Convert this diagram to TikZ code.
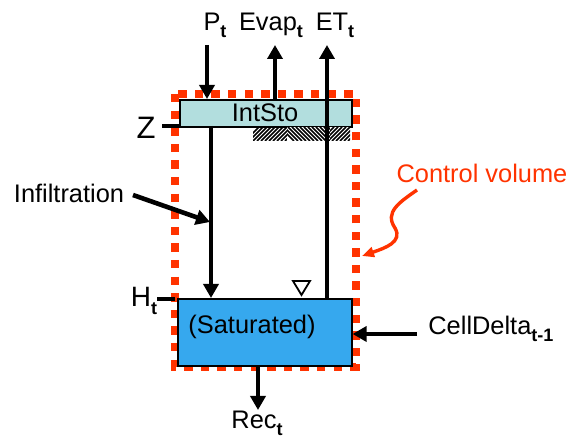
\documentclass[tikz,border=0pt]{standalone}
\usepackage{fontspec}
\setmainfont{Liberation Sans}
\usetikzlibrary{arrows.meta}
\definecolor{cvred}{RGB}{255,51,0}
\definecolor{intcol}{RGB}{178,222,222}
\definecolor{satcol}{RGB}{54,168,238}
\newcommand{\lsub}[1]{\raisebox{-0.5ex}{\fontsize{9}{9}\selectfont\bfseries #1}}
\begin{document}
\begin{tikzpicture}[x=0.5pt,y=-0.5pt,
  lbl/.style={font=\fontsize{12.7}{15}\selectfont, inner sep=0pt},
  biglbl/.style={font=\fontsize{15.5}{18}\selectfont, inner sep=0pt},
  flow/.style={line width=2.3pt, -{Triangle[length=7pt,width=7.5pt]}},
  boxst/.style={draw=black, line width=0.8pt, inner sep=0pt, anchor=north west},
  cv/.style={draw=cvred, line width=4.2pt, dash pattern=on 4.2pt off 4.1pt},
  hatch/.style={line width=0.8pt}]
\useasboundingbox (0,0) rectangle (568,437);
% control volume
\draw[cv] (175,94) rectangle (356,367);
% boxes
\node[boxst, fill=intcol, minimum width=86pt, minimum height=13.5pt] (intsto) at (179,99) {};
\node[lbl] (intlbl) at (265,113) {IntSto};
\node[boxst, fill=satcol, minimum width=87pt, minimum height=33.5pt] (sat) at (177,298) {};
\node[lbl] (satlbl) at (252,327) {(Saturated)};
% hatching
\begin{scope}
\clip (253,127) rectangle (350,141);
\foreach \i in {0,4,...,40} { \draw[hatch] (245+\i,141) -- (259+\i,127); }
\end{scope}
\begin{scope}
\clip (287,127) rectangle (330,141);
\fill[white] (287,127) rectangle (330,141);
\foreach \i in {0,4,...,52} { \draw[hatch] (280+\i,127) -- (294+\i,141); }
\end{scope}
\begin{scope}
\clip (330,127) rectangle (350,141);
\fill[white] (330,127) rectangle (350,141);
\foreach \i in {0,4,...,40} { \draw[hatch] (320+\i,141) -- (334+\i,127); }
\end{scope}
% water table symbol
\draw[line width=0.9pt, fill=white] (293,281) -- (310,281) -- (301.5,295) -- cycle;
% labels
\node[lbl] (plbl) at (215,25) {P\lsub{t}};
\node[lbl] (evlbl) at (271,25) {Evap\lsub{t}};
\node[lbl] (etlbl) at (335,25) {ET\lsub{t}};
\node[biglbl] (zlbl) at (146,128) {Z};
\node[lbl, font=\fontsize{14}{16}\selectfont] (hlbl) at (144,301) {H\lsub{t}};
\node[lbl] (inflbl) at (69,193) {Infiltration};
\node[lbl] (reclbl) at (257,423) {Rec\lsub{t}};
\node[lbl, anchor=west] (cdlbl) at (428,329) {CellDelta\lsub{t-1}};
\node[lbl, text=cvred] (cvlbl) at (482,173) {Control volume};
% free-end coordinates
\coordinate (ptop) at (207,45);
\coordinate (evtop) at (275,45);
\coordinate (ettop) at (327,45);
\coordinate (recend) at (258,410);
\coordinate (cdstart) at (417,334);
\coordinate (infstart) at (133,195);
\coordinate (infend) at (210,222);
\coordinate (zend) at (162,126);
\coordinate (hend) at (157,299);
\coordinate (cvstart) at (417,190);
\coordinate (cvend) at (362,256);
% flows
\draw[flow] (ptop) -- (ptop |- intsto.north);
\draw[flow] (evtop |- intsto.north) -- (evtop);
\draw[flow] (ettop |- sat.north) -- (ettop);
\draw[flow] (211,126) -- (211,298);
\draw[flow] (recend |- sat.south) -- (recend);
\draw[flow] (cdstart) -- (cdstart -| sat.east);
\draw[flow] (infstart) -- (infend);
\draw[line width=2.3pt] (zend) -- (zend -| intsto.west);
\draw[line width=2.3pt] (hend) -- (175,299);
\draw[cvred, line width=1.7pt, -{Triangle[length=6pt,width=5pt]}] (cvstart) .. controls (400,202) and (384,212) .. (395,228) .. controls (403,242) and (385,248) .. (cvend);
\end{tikzpicture}
\end{document}
